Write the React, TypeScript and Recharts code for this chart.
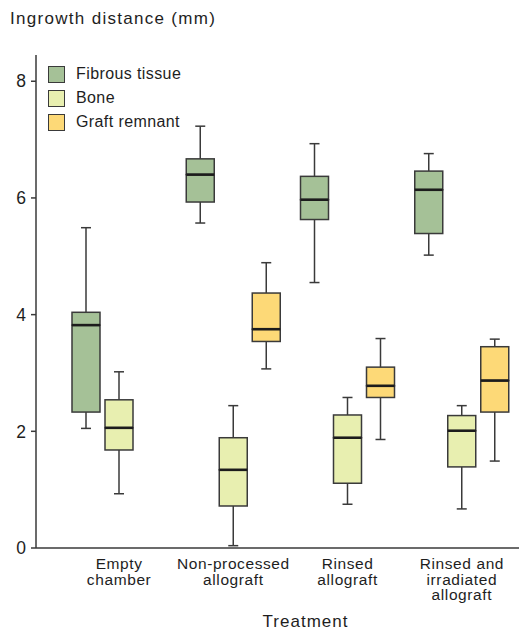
import { Bar, ComposedChart, Legend, XAxis, YAxis } from "recharts";

const categories = [
  "Empty\nchamber",
  "Non-processed\nallograft",
  "Rinsed\nallograft",
  "Rinsed and\nirradiated\nallograft",
];

// [min, q1, median, q3, max]
const fibrous = [
  [2.05, 2.33, 3.82, 4.04, 5.49],
  [5.57, 5.93, 6.4, 6.67, 7.23],
  [4.55, 5.63, 5.97, 6.37, 6.93],
  [5.02, 5.39, 6.14, 6.46, 6.76],
];
const bone = [
  [0.93, 1.68, 2.06, 2.54, 3.02],
  [0.04, 0.72, 1.34, 1.89, 2.44],
  [0.75, 1.11, 1.89, 2.28, 2.58],
  [0.67, 1.39, 2.01, 2.27, 2.44],
];
const graft = [
  null,
  [3.07, 3.54, 3.75, 4.37, 4.89],
  [1.86, 2.58, 2.78, 3.1, 3.59],
  [1.49, 2.33, 2.87, 3.45, 3.58],
];
const yTicks = [0, 2, 4, 6, 8];

const series = [
  { key: "f", name: "Fibrous tissue", color: "#a5c197", values: fibrous },
  { key: "b", name: "Bone", color: "#e8efb0", values: bone },
  { key: "g", name: "Graft remnant", color: "#fdd977", values: graft },
];

const parts = ["base", "lw", "lb", "ub", "uw"];

const FONT = "'Liberation Sans', Arial, sans-serif";
const INK = "#1e1e1e";
const LINE = "#3a3a3a";

const rows = categories.map((name, i) => {
  const row: Record<string, any> = { name };
  series.forEach((s) => {
    const v = s.values[i];
    if (!v) return;
    row[`${s.key}_base`] = v[0];
    row[`${s.key}_lw`] = v[1] - v[0];
    row[`${s.key}_lb`] = v[2] - v[1];
    row[`${s.key}_ub`] = v[3] - v[2];
    row[`${s.key}_uw`] = v[4] - v[3];
  });
  return row;
});

const makeShape = (part: string, fill: string, dataKey: string) => (props: any) => {
  const { x, y, width, height, payload } = props;
  if (payload?.[dataKey] == null || ![x, y, width, height].every(Number.isFinite)) return <g />;
  const cx = x + width / 2;
  const cap = 5;
  if (part === "base") return <g />;
  if (part === "lw") {
    const bottom = y + height;
    return (
      <g stroke={LINE} strokeWidth={1.5}>
        <line x1={cx} x2={cx} y1={y} y2={bottom} />
        <line x1={cx - cap} x2={cx + cap} y1={bottom} y2={bottom} />
      </g>
    );
  }
  if (part === "uw") {
    return (
      <g stroke={LINE} strokeWidth={1.5}>
        <line x1={cx} x2={cx} y1={y} y2={y + height} />
        <line x1={cx - cap} x2={cx + cap} y1={y} y2={y} />
      </g>
    );
  }
  if (part === "lb") {
    return <rect x={x} y={y} width={width} height={height} fill={fill} stroke={LINE} strokeWidth={1.5} />;
  }
  return (
    <g>
      <rect x={x} y={y} width={width} height={height} fill={fill} stroke={LINE} strokeWidth={1.5} />
      <line x1={x} x2={x + width} y1={y + height} y2={y + height} stroke="#1c1c1c" strokeWidth={2.6} />
    </g>
  );
};

const CategoryTick = (props: any) => {
  const { x, y, payload } = props;
  const lines = String(payload.value).split("\n");
  return (
    <text x={x} y={y} textAnchor="middle" fontSize={15.5} fill={INK} letterSpacing={0.6}>
      {lines.map((l, i) => (
        <tspan key={i} x={x} dy={i === 0 ? 13 : 15.5}>
          {l}
        </tspan>
      ))}
    </text>
  );
};

const LegendBox = () => (
  <div style={{ fontFamily: FONT }}>
    {series.map((s) => (
      <div key={s.key} style={{ display: "flex", alignItems: "center", height: 24 }}>
        <span
          style={{
            width: 17,
            height: 17,
            background: s.color,
            border: `1.5px solid ${LINE}`,
            boxSizing: "border-box",
            marginRight: 11,
          }}
        />
        <span style={{ fontSize: 16, color: INK, letterSpacing: 0.4 }}>{s.name}</span>
      </div>
    ))}
  </div>
);

export default function App() {
  return (
    <div style={{ position: "absolute", left: 0, top: 0, width: 519, height: 632, fontFamily: FONT, color: INK }}>
      <div style={{ position: "absolute", left: 10, top: 9, fontSize: 17, letterSpacing: 1.3, zIndex: 2 }}>
        Ingrowth distance (mm)
      </div>
      <ComposedChart
        width={519}
        height={632}
        data={rows}
        margin={{ top: 55, right: 0, bottom: 0, left: 0 }}
        barSize={28}
        barGap={5}
      >
        <XAxis
          dataKey="name"
          height={84}
          padding={{ left: 26, right: 0 }}
          tickLine={false}
          axisLine={{ stroke: LINE, strokeWidth: 1.5 }}
          interval={0}
          tick={<CategoryTick />}
          label={{
            value: "Treatment",
            position: "insideBottom",
            offset: 5,
            dx: 28,
            fontSize: 17,
            fill: INK,
            letterSpacing: 1,
          }}
        />
        <YAxis
          width={36}
          domain={[0, 8.45]}
          allowDataOverflow
          ticks={yTicks}
          tickSize={5}
          tickMargin={5}
          axisLine={{ stroke: LINE, strokeWidth: 1.5 }}
          tickLine={{ stroke: LINE, strokeWidth: 1.5 }}
          tick={{ fontSize: 17.5, fill: INK }}
        />
        <Legend
          content={<LegendBox />}
          layout="vertical"
          verticalAlign="middle"
          align="center"
          wrapperStyle={{ top: 62, left: 48, width: "auto" }}
        />
        {series.flatMap((s) =>
          parts.map((p) => (
            <Bar
              key={`${s.key}_${p}`}
              dataKey={`${s.key}_${p}`}
              stackId={s.key}
              legendType="none"
              isAnimationActive={false}
              shape={makeShape(p, s.color, `${s.key}_${p}`)}
            />
          ))
        )}
      </ComposedChart>
    </div>
  );
}
